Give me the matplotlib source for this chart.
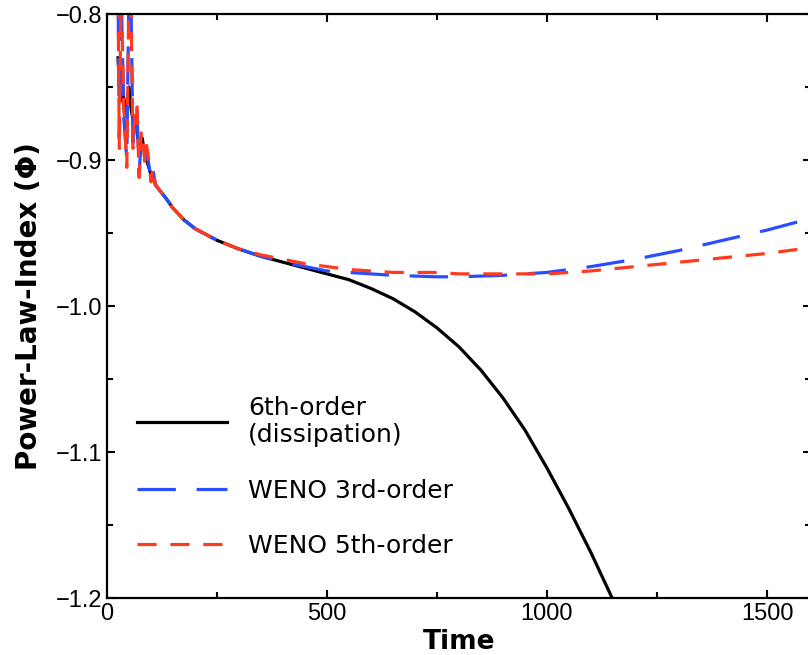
import numpy as np
import matplotlib
matplotlib.use("Agg")
import matplotlib.pyplot as plt
from matplotlib.ticker import MultipleLocator

plt.rcParams['font.family'] = ['Liberation Sans', 'DejaVu Sans']

# ---- data ----
t_black = [25, 30, 35, 40, 45, 50, 55, 60, 65, 70, 75, 80, 85, 90, 95, 100, 105,
           110, 136, 150, 175, 200, 250, 300, 350, 400, 450, 500, 550, 600, 650,
           700, 750, 800, 850, 900, 950, 1000, 1050, 1100, 1148]
y_black = [-0.83, -0.86, -0.845, -0.87, -0.86, -0.85, -0.865, -0.875, -0.87, -0.885, -0.89,
           -0.885, -0.895, -0.90, -0.905, -0.91, -0.912,
           -0.917, -0.927, -0.933, -0.941, -0.947, -0.955, -0.961, -0.966, -0.970,
           -0.974, -0.978, -0.982, -0.988, -0.995, -1.004, -1.015, -1.028, -1.044,
           -1.063, -1.085, -1.111, -1.139, -1.169, -1.200]

t_weno3 = [25, 28, 32, 38, 45, 50, 54, 59, 63, 68, 73, 78, 82, 86, 90, 95, 100, 104,
           110, 136, 150, 175, 200, 250, 300, 350, 400, 450, 500, 550, 600, 650, 700,
           750, 800, 850, 900, 950, 1000, 1100, 1200, 1300, 1400, 1500, 1600]
y_weno3 = [-0.78, -0.885, -0.78, -0.87, -0.90, -0.78, -0.78, -0.888, -0.875, -0.865,
           -0.91, -0.885, -0.888, -0.90, -0.893, -0.903, -0.913, -0.906,
           -0.917, -0.927, -0.933, -0.941, -0.947, -0.955, -0.961, -0.966, -0.970,
           -0.973, -0.976, -0.977, -0.978, -0.979, -0.9795, -0.980, -0.980, -0.9795,
           -0.979, -0.978, -0.977, -0.973, -0.968, -0.962, -0.955, -0.948, -0.940]

t_weno5 = [25, 28, 32, 38, 45, 50, 54, 59, 63, 68, 73, 78, 82, 86, 90, 95, 100, 104,
           110, 136, 150, 175, 200, 250, 300, 350, 400, 450, 500, 550, 600, 650, 700,
           750, 800, 900, 1000, 1100, 1200, 1300, 1400, 1500, 1600]
y_weno5 = [-0.78, -0.893, -0.78, -0.86, -0.905, -0.78, -0.78, -0.892, -0.87, -0.861,
           -0.912, -0.88, -0.885, -0.902, -0.89, -0.90, -0.915, -0.905,
           -0.917, -0.927, -0.933, -0.941, -0.947, -0.955, -0.961, -0.965, -0.968,
           -0.971, -0.973, -0.975, -0.976, -0.977, -0.977, -0.977, -0.978, -0.978,
           -0.978, -0.976, -0.973, -0.970, -0.967, -0.964, -0.960]

labels = ["6th-order\n(dissipation)", "WENO 3rd-order", "WENO 5th-order"]

# ---- figure ----
fig = plt.figure(figsize=(8.08, 6.55), dpi=100)
ax = fig.add_axes([107 / 808, 57 / 655, 704 / 808, 584 / 655])

ax.plot(t_black, y_black, color="black", lw=2.3, label=labels[0])
ax.plot(t_weno3, y_weno3, color="#2a4dff", lw=2.3, dashes=(12, 6.5), label=labels[1])
ax.plot(t_weno5, y_weno5, color="#ff3a1e", lw=2.3, dashes=(6, 4.3), label=labels[2])

ax.set_xlim(0, 1600)
ax.set_ylim(-1.2, -0.8)
ax.xaxis.set_major_locator(MultipleLocator(500))
ax.xaxis.set_minor_locator(MultipleLocator(250))
ax.yaxis.set_major_locator(MultipleLocator(0.1))
ax.yaxis.set_minor_locator(MultipleLocator(0.05))
ax.tick_params(which="both", direction="in", top=True, right=True, width=1.5)
ax.tick_params(which="major", length=6, labelsize=17)
ax.tick_params(which="minor", length=4)
for s in ax.spines.values():
    s.set_linewidth(1.6)

ax.set_xlabel("Time", fontsize=19, fontweight="bold", labelpad=3,
              family=["DejaVu Sans"])
ax.set_ylabel("Power-Law-Index (Φ)", fontsize=20, fontweight="bold", labelpad=9,
              family=["DejaVu Sans"])

leg = ax.legend(loc="lower left", bbox_to_anchor=(0.01, 0.03), frameon=False,
                prop={"family": "DejaVu Sans", "size": 18},
                handlelength=3.6, handletextpad=0.85, labelspacing=1.25)

fig.savefig("out.png", dpi=100)
